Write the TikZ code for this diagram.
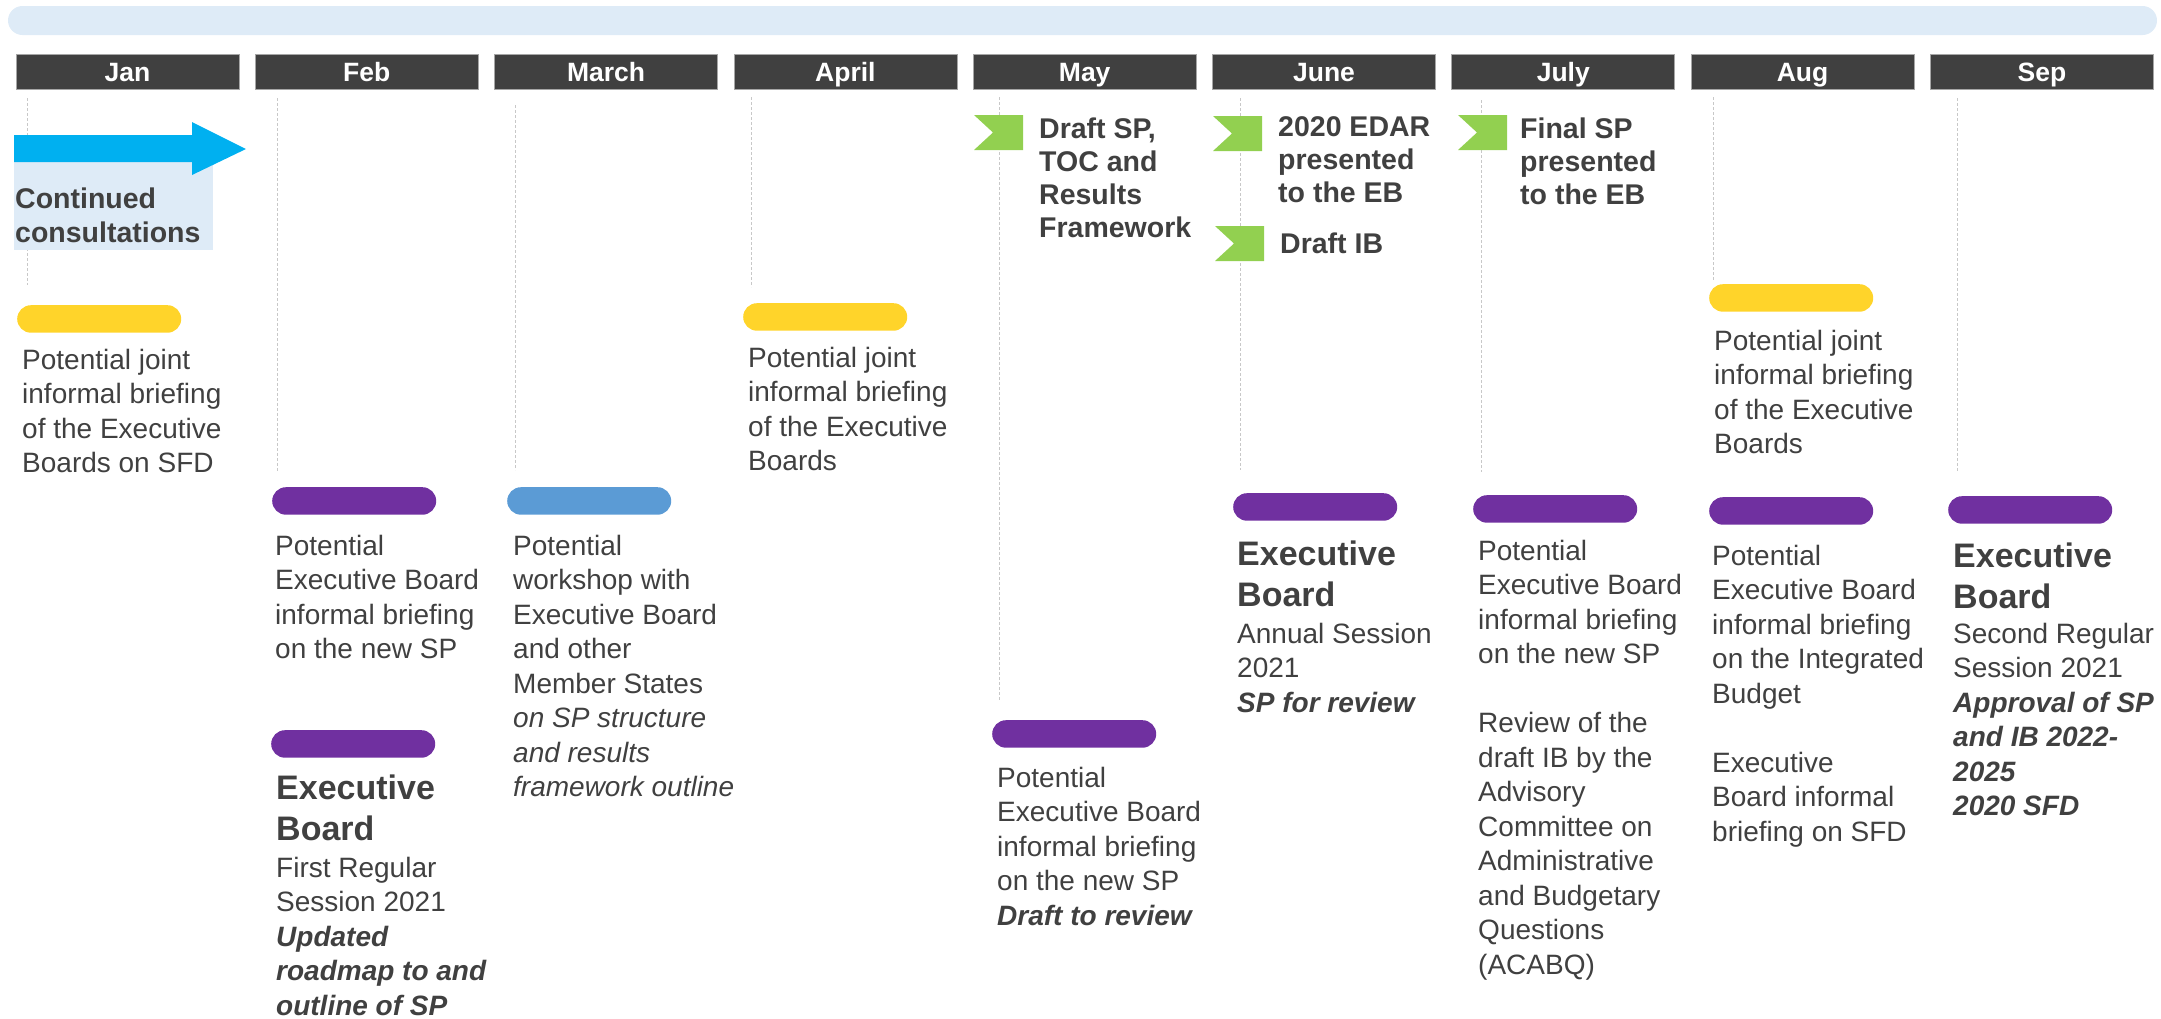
\documentclass[tikz,border=0pt]{standalone}
\usepackage{fontspec}
\setmainfont{Liberation Sans}
\definecolor{txt}{HTML}{404040}
\definecolor{hdr}{HTML}{404040}
\definecolor{hdrline}{HTML}{A6A6A6}
\definecolor{barblue}{HTML}{DEEBF7}
\definecolor{arrowblue}{HTML}{00B0F0}
\definecolor{pillyellow}{HTML}{FFD42A}
\definecolor{pillpurple}{HTML}{7030A0}
\definecolor{pillblue}{HTML}{5B9BD5}
\definecolor{flaggreen}{HTML}{92D050}
\definecolor{dashgray}{HTML}{C8C8C8}
\newcommand\greenflag[2]{\fill[flaggreen] (#1,#2) -- ++(49,0) -- ++(0,35) -- ++(-49,0) -- ++(19,-17.5) -- cycle;}
\newcommand\bi[1]{\textbf{\textit{#1}}}
\tikzset{
 month/.style={fill=hdr, draw=hdrline, line width=0.8pt, minimum width=223pt, minimum height=35pt, inner sep=0pt, text height=19pt, text depth=0pt, text=white, font=\fontsize{26.5}{30}\selectfont\bfseries},
 pill/.style={fill=#1, minimum width=164pt, minimum height=27.5pt, rounded corners=13.75pt, inner sep=0pt, anchor=north west},
 body/.style={anchor=base west, inner sep=0pt, align=left, text=txt, font=\fontsize{28}{34.5}\selectfont},
 flagtext/.style={anchor=base west, inner sep=0pt, align=left, text=txt, font=\fontsize{28.5}{33}\selectfont\bfseries},
 ebtitle/.style={anchor=base west, inner sep=0pt, align=left, text=txt, font=\fontsize{34}{41.5}\selectfont\bfseries},
 guide/.style={draw=dashgray, line width=1pt, dash pattern=on 3pt off 2pt},
}
\begin{document}
\begin{tikzpicture}[x=1pt,y=-1pt]
\useasboundingbox (0,0) rectangle (2161,1018);
% top bar
\fill[barblue, rounded corners=14.5pt] (8,6) rectangle (2157,35);
% month headers
\node[month] (mJan) at (127.5,71.5) {Jan};
\node[month] (mFeb) at (366.8,71.5) {Feb};
\node[month] (mMar) at (606.1,71.5) {March};
\node[month] (mApr) at (845.4,71.5) {April};
\node[month] (mMay) at (1084.7,71.5) {May};
\node[month] (mJun) at (1324,71.5) {June};
\node[month] (mJul) at (1563.3,71.5) {July};
\node[month] (mAug) at (1802.6,71.5) {Aug};
\node[month] (mSep) at (2041.9,71.5) {Sep};
% guide lines
\draw[guide] (27,98) -- (27,285);
\draw[guide] (277,98) -- (277,472);
\draw[guide] (515,105) -- (515,470);
\draw[guide] (751,97) -- (751,287);
\draw[guide] (999,97) -- (999,700);
\draw[guide] (1240,98) -- (1240,470);
\draw[guide] (1481,100) -- (1481,472);
\draw[guide] (1713,97) -- (1713,281);
\draw[guide] (1957,98) -- (1957,472);
% continued consultations
\fill[barblue] (14,135) rectangle (213,250);
\fill[arrowblue] (14,135) -- (192,135) -- (192,122) -- (246,149) -- (192,175) -- (192,162) -- (14,162) -- cycle;
\node[flagtext, font=\fontsize{28.5}{34}\selectfont\bfseries] (cons) at (15,242) {Continued\\consultations};
% Jan
\node[pill=pillyellow] (pJan) at (17,305) {};
\node[body] (tJan) at (22,472.5) {Potential joint\\informal briefing\\of the Executive\\Boards on SFD};
% Feb
\node[pill=pillpurple] (pFeb1) at (272,487) {};
\node[body] (tFeb1) at (275,658.5) {Potential\\Executive Board\\informal briefing\\on the new SP};
\node[pill=pillpurple] (pFeb2) at (271,730) {};
\node[ebtitle] (hFeb2) at (276,840.5) {Executive\\Board};
\node[body] (tFeb2) at (276,1015) {First Regular\\Session 2021\\\bi{Updated}\\\bi{roadmap to and}\\\bi{outline of SP}};
% March
\node[pill=pillblue] (pMar) at (507,487) {};
\node[body] (tMar) at (513,796.5) {Potential\\workshop with\\Executive Board\\and other\\Member States\\\textit{on SP structure}\\\textit{and results}\\\textit{framework outline}};
% April
\node[pill=pillyellow] (pApr) at (743,303) {};
\node[body] (tApr) at (748,470.5) {Potential joint\\informal briefing\\of the Executive\\Boards};
% May
\greenflag{974}{115}
\node[flagtext] (fMay) at (1039,237) {Draft SP,\\TOC and\\Results\\Framework};
\node[pill=pillpurple] (pMay) at (992,720) {};
\node[body] (tMay) at (997,925) {Potential\\Executive Board\\informal briefing\\on the new SP\\\bi{Draft to review}};
% June
\greenflag{1213}{116}
\node[flagtext] (fJun1) at (1278,202) {2020 EDAR\\presented\\to the EB};
\greenflag{1215}{226}
\node[flagtext] (fJun2) at (1280,253) {Draft IB};
\node[pill=pillpurple] (pJun) at (1233,493) {};
\node[ebtitle] (hJun) at (1237,606.5) {Executive\\Board};
\node[body] (tJun) at (1237,712) {Annual Session\\2021\\\bi{SP for review}};
% July
\greenflag{1458}{115}
\node[flagtext] (fJul) at (1520,204) {Final SP\\presented\\to the EB};
\node[pill=pillpurple] (pJul) at (1473,495) {};
\node[body] (tJul) at (1478,974) {Potential\\Executive Board\\informal briefing\\on the new SP\\[34.5pt]Review of the\\draft IB by the\\Advisory\\Committee on\\Administrative\\and Budgetary\\Questions\\(ACABQ)};
% Aug
\node[pill=pillyellow] (pAug1) at (1709,284) {};
\node[body] (tAug1) at (1714,453.5) {Potential joint\\informal briefing\\of the Executive\\Boards};
\node[pill=pillpurple] (pAug2) at (1709,497) {};
\node[body] (tAug2) at (1712,841) {Potential\\Executive Board\\informal briefing\\on the Integrated\\Budget\\[34.5pt]Executive\\Board informal\\briefing on SFD};
% Sep
\node[pill=pillpurple] (pSep) at (1948,496) {};
\node[ebtitle] (hSep) at (1953,608.5) {Executive\\Board};
\node[body] (tSep) at (1953,815.5) {Second Regular\\Session 2021\\\bi{Approval of SP}\\\bi{and IB 2022-}\\\bi{2025}\\\bi{2020 SFD}};
\end{tikzpicture}
\end{document}
